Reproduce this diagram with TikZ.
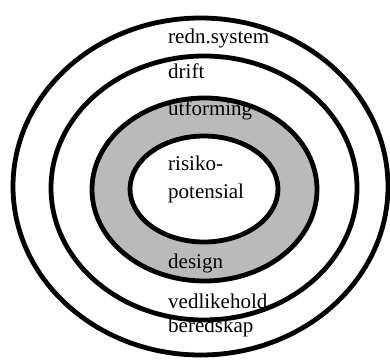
\documentclass[tikz,border=0pt]{standalone}
\usepackage{fontspec}
\setmainfont{Liberation Serif}
\usetikzlibrary{shapes.geometric}

\begin{document}
\begin{tikzpicture}[
  x=1pt, y=1pt,
  ring/.style={ellipse, draw, line width=4.8pt, inner sep=0pt},
  lbl/.style={anchor=base west, inner sep=0pt, font=\fontsize{21}{23}\selectfont}
]
  \useasboundingbox (0,0) rectangle (390,-359);

  % rings, outside in
  \node[ring, minimum width=375pt, minimum height=337pt] (sys) at (200.5,-186.5) {};
  \node[ring, minimum width=306pt, minimum height=264pt] (drift) at (204,-188) {};
  \node[ring, fill=black!27, minimum width=225pt, minimum height=183pt] (form) at (204.5,-189.5) {};
  \node[ring, fill=white, minimum width=148pt, minimum height=106pt] (core) at (204,-189) {};

  % labels
  \node[lbl] (redn) at (168,-43) {redn.system};
  \node[lbl] (drf) at (168,-78) {drift};
  \node[lbl] (utf) at (168,-115) {utforming};
  \node[lbl] (ris) at (168,-170) {risiko-};
  \node[lbl] (pot) at (168,-198) {potensial};
  \node[lbl] (des) at (168,-268) {design};
  \node[lbl] (ved) at (168,-308) {vedlikehold};
  \node[lbl] (ber) at (168,-332) {beredskap};
\end{tikzpicture}
\end{document}
